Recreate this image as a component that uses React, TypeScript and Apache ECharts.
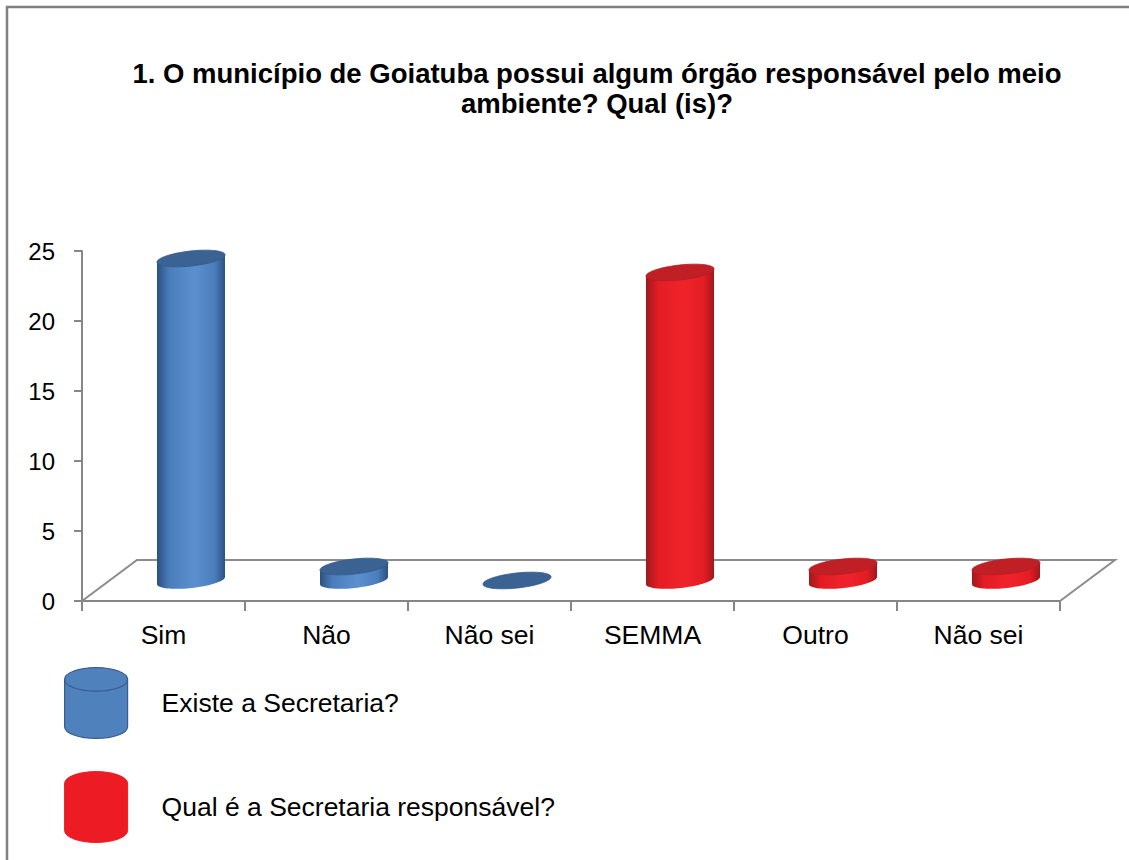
import React, { useEffect, useRef } from "react";
import * as echarts from "echarts";

const CATEGORIES = ["Sim", "Não", "Não sei", "SEMMA", "Outro", "Não sei"];
const SERIES_NAMES = ["Existe a Secretaria?", "Qual é a Secretaria responsável?"];
// [category index, value]
const EXISTE_DATA = [
  [0, 23],
  [1, 1],
  [2, 0],
];
const QUAL_DATA = [
  [3, 22],
  [4, 1],
  [5, 1],
];
const Y_MAX = 25;
const Y_INTERVAL = 5;

const FONT = "'Liberation Sans', Arial, sans-serif";
const DX = 55;
const DY = 41;

type Palette = { edge: string; mid: string; light: string; top: string; topStroke: string };
const BLUE: Palette = { edge: "#2c5080", mid: "#4a7dba", light: "#5b90cf", top: "#3a6393", topStroke: "#35598a" };
const RED: Palette = { edge: "#9e191d", mid: "#e41c24", light: "#f0232b", top: "#c11f26", topStroke: "#b51d23" };

function makeCylinder(pal: Palette) {
  return (params: any, api: any) => {
    const idx = api.value(0);
    const v = api.value(1);
    const p0 = api.coord([idx, 0]);
    const p1 = api.coord([idx, v]);
    const w = api.size([1, 0])[0] * 0.42;
    const cx = p0[0] + DX / 2;
    const base = p0[1] - DY / 2;
    const top = p1[1] - DY / 2;
    const a = w / 2;
    const b = 7.5;
    const phi = 0.11;
    const c = Math.cos(phi);
    const s = Math.sin(phi);
    const pt = (cy: number, th: number) => {
      const dx = a * Math.cos(th);
      const dy = b * Math.sin(th);
      return [cx + dx * c + dy * s, cy - dx * s + dy * c];
    };
    const N = 40;
    const children: any[] = [];
    if (v > 0) {
      const body: number[][] = [pt(top, 0)];
      for (let i = 0; i <= N; i++) body.push(pt(base, (Math.PI * i) / N));
      body.push(pt(top, Math.PI));
      children.push({
        type: "polygon",
        shape: { points: body },
        style: {
          fill: new echarts.graphic.LinearGradient(0, 0, 1, 0, [
            { offset: 0, color: pal.edge },
            { offset: 0.18, color: pal.mid },
            { offset: 0.55, color: pal.light },
            { offset: 0.85, color: pal.mid },
            { offset: 1, color: pal.edge },
          ]),
        },
      });
    }
    const ell: number[][] = [];
    for (let i = 0; i < 2 * N; i++) ell.push(pt(top, (Math.PI * i) / N));
    children.push({
      type: "polygon",
      shape: { points: ell },
      style: { fill: pal.top, stroke: pal.topStroke, lineWidth: 0.8 },
    });
    return { type: "group", children };
  };
}

const CYL_ICON =
  "path://M0,12 A32,12 0 0 1 64,12 L64,60 A32,12 0 0 1 0,60 Z M64,12 A32,12 0 0 1 0,12";

export default function App() {
  const ref = useRef<HTMLDivElement>(null);
  useEffect(() => {
    if (!ref.current) return;
    const chart = echarts.init(ref.current, null, { renderer: "svg" });
    chart.setOption({
      animation: false,
      backgroundColor: "#ffffff",
      title: {
        text: "1. O município de Goiatuba possui algum órgão responsável pelo meio\nambiente? Qual (is)?",
        left: 597,
        top: 58,
        padding: 0,
        textAlign: "center",
        textStyle: { fontFamily: FONT, fontSize: 27.5, fontWeight: "bold", color: "#000", lineHeight: 30 },
      },
      graphic: [
        {
          type: "rect",
          shape: { x: 7, y: 7, width: 1160, height: 900 },
          style: { fill: "none", stroke: "#808080", lineWidth: 2.5 },
          silent: true,
        },
      ],
      legend: {
        orient: "vertical",
        left: 64,
        top: 667,
        padding: 0,
        itemWidth: 63,
        itemHeight: 71,
        itemGap: 32,
        selectedMode: false,
        textStyle: { fontFamily: FONT, fontSize: 26.5, color: "#000", padding: [0, 0, 0, 29] },
        data: [
          { name: SERIES_NAMES[0], icon: CYL_ICON, itemStyle: { color: "#4f81bd", borderColor: "#385d8a", borderWidth: 1.2 } },
          { name: SERIES_NAMES[1], icon: CYL_ICON, itemStyle: { color: "#ed1c24", borderColor: "#ed1c24", borderWidth: 1 } },
        ],
      },
      grid: { left: 82, top: 251, width: 978, height: 350, containLabel: false },
      xAxis: {
        type: "category",
        data: CATEGORIES,
        axisLine: { show: true, lineStyle: { color: "#868686", width: 2 } },
        axisTick: { show: true, length: 10, lineStyle: { color: "#868686", width: 2 } },
        axisLabel: { fontFamily: FONT, fontSize: 26.5, color: "#000", margin: 20 },
        splitLine: { show: false },
      },
      yAxis: {
        type: "value",
        min: 0,
        max: Y_MAX,
        interval: Y_INTERVAL,
        axisLine: { show: true, lineStyle: { color: "#868686", width: 2 } },
        axisTick: { show: true, length: 8, lineStyle: { color: "#868686", width: 2 } },
        axisLabel: { fontFamily: FONT, fontSize: 24, color: "#000", margin: 27 },
        splitLine: { show: false },
      },
      series: [
        {
          name: "floor",
          type: "custom",
          silent: true,
          z: 1,
          data: [[0, 0]],
          encode: { x: 0, y: 1 },
          renderItem: (params: any) => {
            const cs = params.coordSys;
            const x0 = cs.x;
            const x1 = cs.x + cs.width;
            const y = cs.y + cs.height;
            return {
              type: "polyline",
              shape: { points: [[x0, y], [x0 + DX, y - DY], [x1 + DX, y - DY], [x1, y]] },
              style: { stroke: "#8c8c8c", lineWidth: 2, fill: "none" },
            };
          },
        },
        {
          name: SERIES_NAMES[0],
          type: "custom",
          z: 2,
          itemStyle: { color: "#4f81bd" },
          data: EXISTE_DATA,
          encode: { x: 0, y: 1 },
          renderItem: makeCylinder(BLUE),
        },
        {
          name: SERIES_NAMES[1],
          type: "custom",
          z: 2,
          itemStyle: { color: "#ed1c24" },
          data: QUAL_DATA,
          encode: { x: 0, y: 1 },
          renderItem: makeCylinder(RED),
        },
      ],
    });
    return () => chart.dispose();
  }, []);
  return (
    <div
      ref={ref}
      style={{ position: "absolute", left: 0, top: 0, width: 1129, height: 860, background: "#fff" }}
    />
  );
}
